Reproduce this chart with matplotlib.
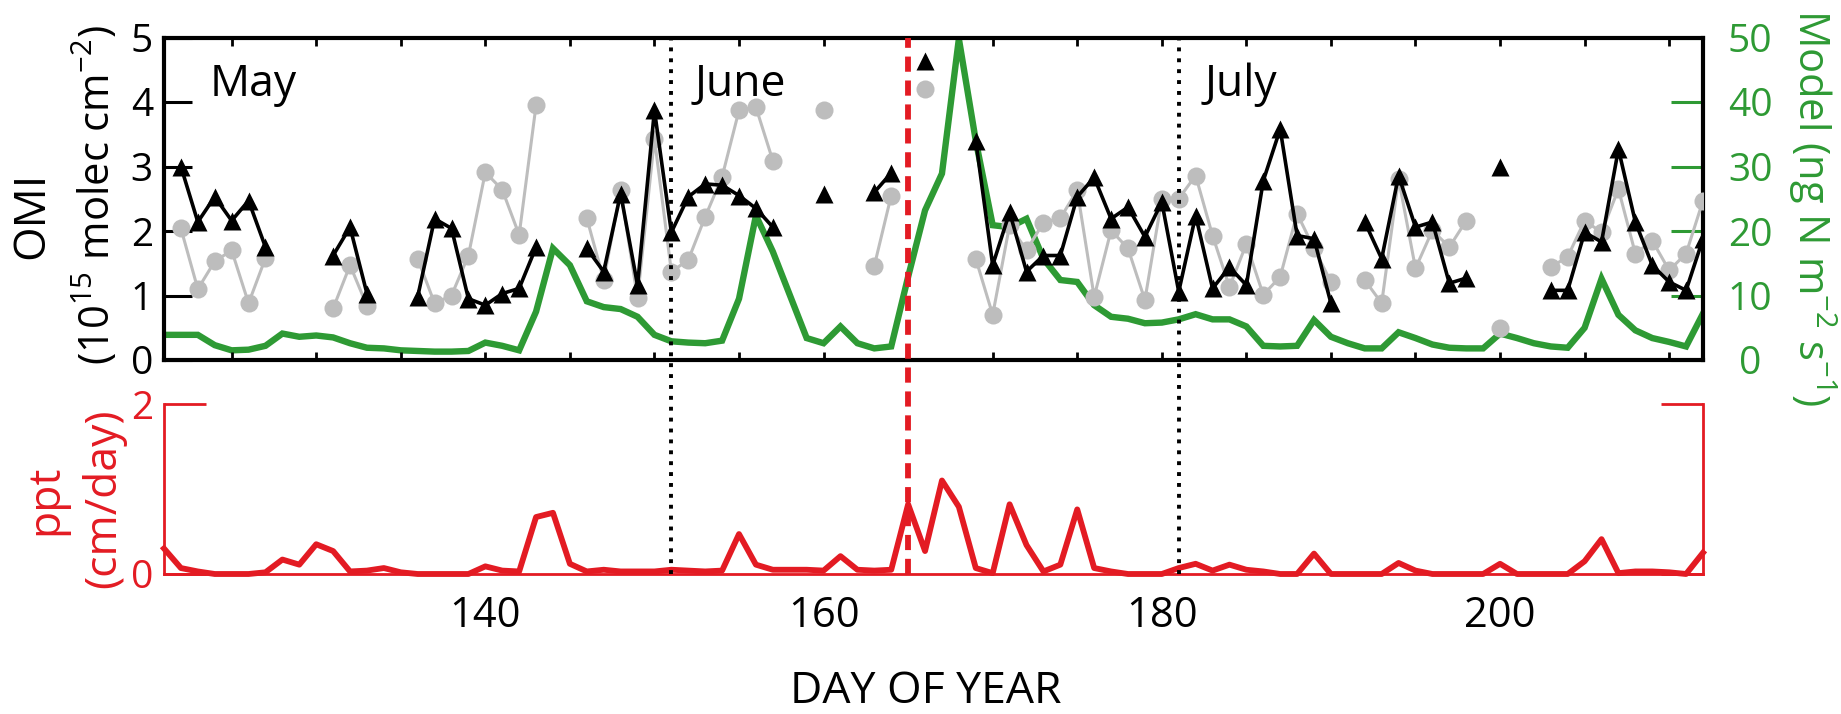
import numpy as np
import matplotlib
matplotlib.use("Agg")
import matplotlib.pyplot as plt
from matplotlib.transforms import blended_transform_factory

plt.rcParams['font.family'] = ['Open Sans', 'DejaVu Sans']
plt.rcParams['mathtext.fontset'] = 'custom'
plt.rcParams['mathtext.rm'] = 'Open Sans'
plt.rcParams['mathtext.it'] = 'Open Sans:italic'
plt.rcParams['mathtext.bf'] = 'Open Sans:bold'

nan = np.nan

# Day of year, 121 .. 212
days = np.arange(121, 213)

# OMI columns (1e15 molec cm-2), black triangles
omi_black = [
    nan, 3.00, 2.14, 2.53, 2.16, 2.47, 1.75, nan, nan, nan,        # 121-130
    1.62, 2.06, 1.03, nan, nan, 0.98, 2.19, 2.04, 0.95, 0.85,      # 131-140
    1.03, 1.11, 1.75, nan, nan, 1.73, 1.37, 2.58, 1.16, 3.87,      # 141-150
    1.98, 2.53, 2.73, 2.71, 2.55, 2.35, 2.06, nan, nan, 2.58,      # 151-160
    nan, nan, 2.60, 2.90, nan, 4.64, nan, nan, 3.40, 1.47,         # 161-170
    2.29, 1.37, 1.62, 1.62, 2.53, 2.83, 2.19, 2.37, 1.91, 2.45,    # 171-180
    1.06, 2.24, 1.11, 1.44, 1.16, 2.78, 3.58, 1.93, 1.88, 0.88,    # 181-190
    nan, 2.14, 1.57, 2.86, 2.06, 2.14, 1.19, 1.27, nan, 2.99,      # 191-200
    nan, nan, 1.08, 1.08, 1.98, 1.83, 3.27, 2.14, 1.47, 1.21,      # 201-210
    1.08, 1.88,                                                    # 211-212
]

# OMI columns, grey circles
omi_grey = [
    nan, 2.04, 1.10, 1.53, 1.70, 0.88, 1.58, nan, nan, nan,        # 121-130
    0.80, 1.47, 0.84, nan, nan, 1.57, 0.88, 1.00, 1.62, 2.91,      # 131-140
    2.64, 1.94, 3.95, nan, nan, 2.20, 1.24, 2.63, 0.96, 3.43,      # 141-150
    1.37, 1.55, 2.22, 2.84, 3.87, 3.92, 3.09, nan, nan, 3.87,      # 151-160
    nan, nan, 1.46, 2.55, nan, 4.20, nan, nan, 1.57, 0.70,         # 161-170
    2.09, 1.70, 2.13, 2.20, 2.63, 0.98, 2.01, 1.73, 0.93, 2.50,    # 171-180
    2.50, 2.86, 1.93, 1.13, 1.80, 1.01, 1.29, 2.27, 1.73, 1.21,    # 181-190
    nan, 1.24, 0.88, 2.81, 1.42, 2.01, 1.75, 2.16, nan, 0.49,      # 191-200
    nan, nan, 1.44, 1.60, 2.16, 1.98, 2.65, 1.65, 1.85, 1.39,      # 201-210
    1.65, 2.47,                                                    # 211-212
]

# Model soil NOx emission (ng N m-2 s-1)
model = [
    3.9, 3.9, 3.9, 2.3, 1.5, 1.6, 2.2, 4.1, 3.6, 3.8,              # 121-130
    3.5, 2.6, 1.9, 1.8, 1.5, 1.4, 1.3, 1.3, 1.4, 2.7,              # 131-140
    2.2, 1.5, 7.5, 17.3, 14.7, 9.1, 8.2, 7.9, 6.7, 3.9,            # 141-150
    2.9, 2.7, 2.6, 3.0, 9.5, 22.4, 16.8, 10.1, 3.4, 2.6,           # 151-160
    5.2, 2.6, 1.8, 2.1, 12.9, 23.2, 28.9, 49.8, 34.0, 20.9,        # 161-170
    20.6, 21.9, 15.7, 12.4, 12.1, 8.5, 6.7, 6.4, 5.7, 5.8,         # 171-180
    6.3, 7.1, 6.3, 6.3, 5.2, 2.2, 2.1, 2.2, 6.2, 3.6,              # 181-190
    2.6, 1.8, 1.8, 4.3, 3.4, 2.4, 1.9, 1.8, 1.8, 4.1,              # 191-200
    3.4, 2.6, 2.1, 1.9, 5.0, 12.6, 7.0, 4.6, 3.4, 2.8,             # 201-210
    2.1, 7.2,                                                      # 211-212
]

# Precipitation (cm/day)
ppt = [
    0.30, 0.07, 0.03, 0.00, 0.00, 0.00, 0.02, 0.17, 0.11, 0.35,    # 121-130
    0.27, 0.03, 0.04, 0.07, 0.02, 0.00, 0.00, 0.00, 0.00, 0.09,    # 131-140
    0.04, 0.03, 0.67, 0.72, 0.12, 0.03, 0.05, 0.03, 0.03, 0.03,    # 141-150
    0.05, 0.04, 0.03, 0.04, 0.47, 0.11, 0.05, 0.05, 0.05, 0.04,    # 151-160
    0.21, 0.05, 0.04, 0.05, 0.82, 0.27, 1.10, 0.79, 0.07, 0.01,    # 161-170
    0.82, 0.34, 0.03, 0.11, 0.76, 0.07, 0.03, 0.00, 0.00, 0.00,    # 171-180
    0.07, 0.12, 0.04, 0.11, 0.05, 0.03, 0.00, 0.00, 0.24, 0.00,    # 181-190
    0.00, 0.00, 0.00, 0.13, 0.04, 0.00, 0.00, 0.00, 0.00, 0.12,    # 191-200
    0.00, 0.00, 0.00, 0.00, 0.15, 0.41, 0.01, 0.03, 0.03, 0.02,    # 201-210
    0.00, 0.25,                                                    # 211-212
]

month_labels = ["May", "June", "July"]
month_pos = [123.7, 152.4, 182.5]
month_ends = [151, 181]          # last day of May / June
event_day = 165
xtick_labels = [140, 160, 180, 200]

GREEN = '#2e9a34'
RED = '#e31b23'
GREY = '#bdbdbd'

W, H = 1841, 714
fig = plt.figure(figsize=(W / 100, H / 100), dpi=100)


def rect(left, top, right, bottom):
    return [left / W, 1 - bottom / H, (right - left) / W, (bottom - top) / H]


top_rect = rect(164, 37.5, 1703, 360)
bot_rect = rect(164, 404, 1703, 574)

# ---- upper panel: OMI (left) and model (right) ----
ax = fig.add_axes(top_rect)
axm = ax.twinx()
axm.set_zorder(ax.get_zorder() - 1)
ax.patch.set_visible(False)

axm.plot(days, model, color=GREEN, lw=4.6, solid_joinstyle='miter', zorder=2)
axm.set_ylim(0, 50)
axm.set_yticks([0, 10, 20, 30, 40, 50])
axm.tick_params(axis='y', direction='in', length=23, width=2.2, color=GREEN,
                labelcolor=GREEN, labelsize=28, pad=34)
for lab in axm.get_yticklabels():
    lab.set_horizontalalignment('center')
for s in axm.spines.values():
    s.set_visible(False)

ax.plot(days, omi_grey, color=GREY, lw=2.2, marker='o', ms=13,
        mec='none', mfc=GREY, zorder=3)
ax.plot(days, omi_black, color='black', lw=2.6, marker='^', ms=13.5,
        mec='none', mfc='black', zorder=4)

ax.set_xlim(121, 212)
ax.set_ylim(0, 5)
ax.set_xticks(np.arange(125, 211, 5))
ax.set_yticks([0, 1, 2, 3, 4, 5])
ax.tick_params(axis='x', direction='in', top=True, bottom=True, length=6,
               width=2, labelbottom=False)
ax.tick_params(axis='y', direction='in', length=20, width=2.2,
               labelsize=28, pad=8)
for s in ax.spines.values():
    s.set_linewidth(3)

for d, name in zip(month_pos, month_labels):
    ax.text(d, 4.1, name, fontsize=32, ha='left', va='baseline', zorder=6)

# ---- lower panel: precipitation ----
axp = fig.add_axes(bot_rect)
axp.patch.set_visible(False)
axp.plot(days, ppt, color=RED, lw=4.2, clip_on=False, zorder=3)
axp.set_xlim(121, 212)
axp.set_ylim(0, 2)
axp.set_yticks([0, 2])
axp.tick_params(axis='y', direction='in', left=True, right=True, length=30,
                width=2, color=RED, labelcolor=RED, labelsize=28, pad=8)
axp.set_xticks(xtick_labels)
axp.tick_params(axis='x', length=0, labelsize=30, pad=15)
axp.spines['top'].set_visible(False)
for side in ('left', 'right', 'bottom'):
    axp.spines[side].set_color(RED)
    axp.spines[side].set_linewidth(2)

# vertical markers spanning both panels
y_top = (574 - 37.5) / 170.0
trans = blended_transform_factory(axp.transData, axp.transAxes)
for d in month_ends:
    axp.plot([d, d], [0, y_top], transform=trans, clip_on=False, color='black',
             lw=2.8, ls=(0, (1.0, 1.8)), zorder=5)
axp.plot([event_day, event_day], [0, y_top], transform=trans, clip_on=False,
         color=RED, lw=4.2, ls=(0, (2.6, 1.5)), zorder=5)

# ---- axis titles ----
def fx(x, y):
    return x / W, 1 - y / H


fig.text(*fx(32, 215), 'OMI', rotation=90, fontsize=32, ha='center', va='center')
fig.text(*fx(96, 195), '(10$^{15}$ molec cm$^{\\mathrm{-2}}$)', rotation=90,
         fontsize=30, ha='center', va='center')
fig.text(*fx(1812, 208), 'Model (ng N m$^{\\mathrm{-2}}$ s$^{\\mathrm{-1}}$)',
         rotation=-90, fontsize=30, color=GREEN, ha='center', va='center')
fig.text(*fx(46, 500), 'ppt', rotation=90, fontsize=32, color=RED,
         ha='center', va='center')
fig.text(*fx(104, 498), '(cm/day)', rotation=90, fontsize=32, color=RED,
         ha='center', va='center')
fig.text(*fx(926, 692), 'DAY OF YEAR', fontsize=32, ha='center', va='center')

fig.savefig('out.png', dpi=100)
